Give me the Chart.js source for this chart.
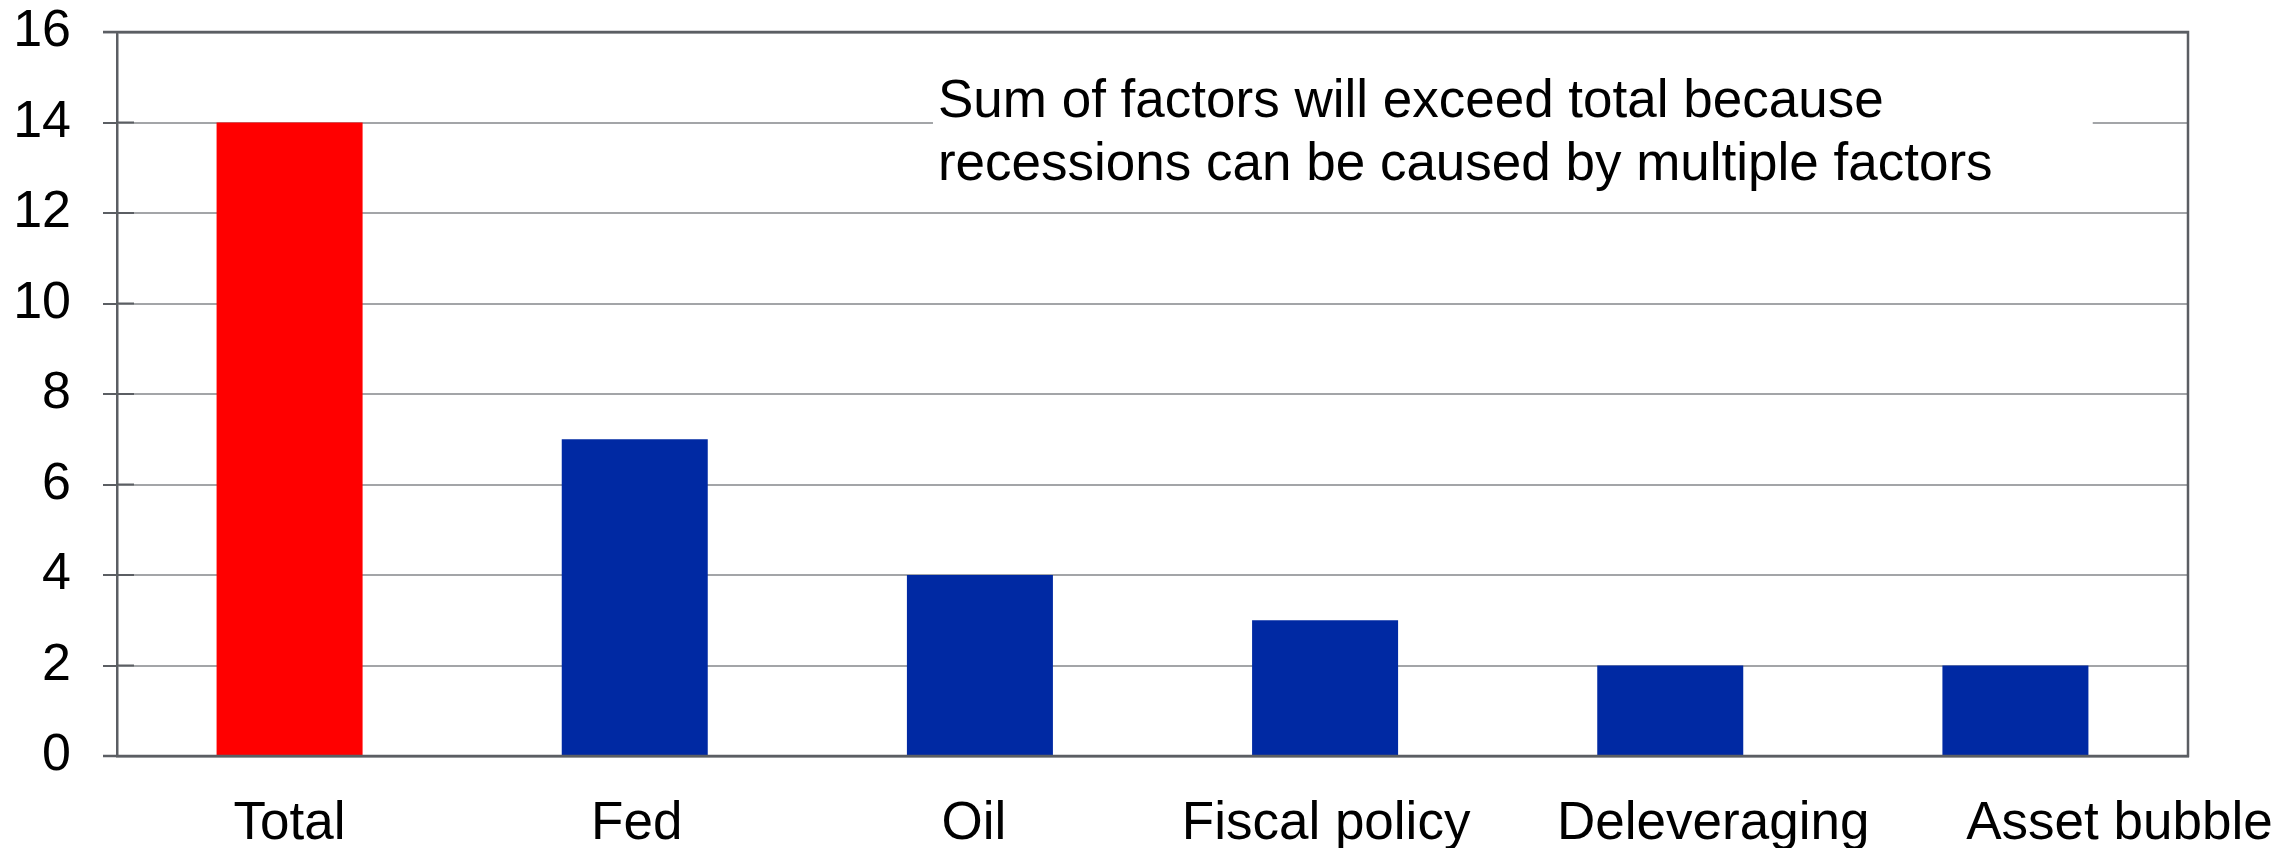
<!DOCTYPE html>
<html>
<head>
<meta charset="utf-8">
<title>Causes of recessions</title>
<script src="https://cdn.jsdelivr.net/npm/chart.js@4.4.1/dist/chart.umd.min.js"></script>
<style>
    html, body { margin: 0; padding: 0; background: #ffffff; }
    canvas { display: block; }
</style>
</head>
<body>
<canvas id="recessionChart" width="2283" height="848"></canvas>
<script>

// ==========================================
// Data
// ==========================================

const categories = ["Total", "Fed", "Oil", "Fiscal policy", "Deleveraging", "Asset bubble"];

const recessionCounts = [14, 7, 4, 3, 2, 2];

const barColors = ["#ff0000", "#0029a3", "#0029a3", "#0029a3", "#0029a3", "#0029a3"];

const yTickValues = [0, 2, 4, 6, 8, 10, 12, 14, 16];

const noteLines = [
    "Sum of factors will exceed total because",
    "recessions can be caused by multiple factors"
];

// small sideways nudge of the category labels (px), as in the original
const labelNudge = [0, 2, -6, 1, 43, 104];


// ==========================================
// Styles
// ==========================================

const FONT = "'Liberation Sans', Arial, Helvetica, sans-serif";
const AXIS_DARK = "#5b5e63";
const GRID_GREY = "#a3a5a8";


// ==========================================
// Plugins
// ==========================================

// frame lines, inner tick marks, note box
const framePlugin = {

    id: "framePlugin",

    afterDatasetsDraw(chart) {

        const ctx = chart.ctx;
        const area = chart.chartArea;
        const y = chart.scales.y;

        ctx.save();

        ctx.strokeStyle = AXIS_DARK;
        ctx.lineWidth = 2.5;

        // top, right and bottom edges of the plot box
        ctx.beginPath();
        ctx.moveTo(area.left - 14, area.top);
        ctx.lineTo(area.right, area.top);
        ctx.lineTo(area.right, area.bottom);
        ctx.lineTo(area.left - 14, area.bottom);
        ctx.stroke();

        // small dark tick segments just inside the axis
        ctx.lineWidth = 2;
        yTickValues.forEach(v => {
            const py = y.getPixelForValue(v);
            ctx.beginPath();
            ctx.moveTo(area.left, py);
            ctx.lineTo(area.left + 17, py);
            ctx.stroke();
        });

        // note box
        const w = area.right - area.left;
        const boxLeft = area.left + w * 0.394;
        const boxRight = area.left + w * 0.954;

        ctx.fillStyle = "#ffffff";
        ctx.fillRect(boxLeft, area.top + 40, boxRight - boxLeft, 133);

        ctx.fillStyle = "#000000";
        ctx.font = "53px " + FONT;
        ctx.textAlign = "left";
        ctx.textBaseline = "alphabetic";

        noteLines.forEach((line, i) => {
            ctx.fillText(line, boxLeft + 5, area.top + 85 + i * 63);
        });

        ctx.restore();

    }

};

// category labels under the axis
const categoryLabelPlugin = {

    id: "categoryLabelPlugin",

    afterDraw(chart) {

        const ctx = chart.ctx;
        const x = chart.scales.x;
        const area = chart.chartArea;

        ctx.save();

        ctx.fillStyle = "#000000";
        ctx.font = "53px " + FONT;
        ctx.textAlign = "center";
        ctx.textBaseline = "alphabetic";

        categories.forEach((label, i) => {
            ctx.fillText(label, x.getPixelForTick(i) + labelNudge[i], area.bottom + 83);
        });

        ctx.restore();

    }

};


// ==========================================
// Chart
// ==========================================

const ctx = document.getElementById("recessionChart").getContext("2d");

new Chart(ctx, {

    type: "bar",

    data: {

        labels: categories,

        datasets: [{

            label: "Recessions",

            data: recessionCounts,

            backgroundColor: barColors,

            borderWidth: 0,

            barPercentage: 0.423,

            categoryPercentage: 1.0

        }]

    },

    options: {

        responsive: false,
        animation: false,
        devicePixelRatio: 1,

        layout: {
            padding: {
                left: 15,
                right: 95,
                top: 32,
                bottom: 0
            }
        },

        plugins: {
            legend: { display: false },
            tooltip: { enabled: false }
        },

        scales: {

            x: {
                grid: { display: false },
                ticks: { display: false },
                border: { display: true, color: AXIS_DARK, width: 2.5 },
                afterFit(scale) {
                    scale.height = 92;
                }
            },

            y: {
                min: 0,
                max: 16,
                afterBuildTicks(scale) {
                    scale.ticks = yTickValues.map(v => ({ value: v }));
                },
                afterFit(scale) {
                    scale.width = 102;
                    scale.paddingTop = 0;
                    scale.paddingBottom = 0;
                },
                grid: {
                    color: c => (c.tick && (c.tick.value === 16 || c.tick.value === 0)) ? AXIS_DARK : GRID_GREY,
                    lineWidth: c => (c.tick && c.tick.value === 16) ? 2.5 : 2,
                    tickColor: AXIS_DARK,
                    tickLength: 14,
                    tickWidth: 2
                },
                border: { display: true, color: AXIS_DARK, width: 2.5 },
                ticks: {
                    color: "#000000",
                    padding: 32,
                    font: { family: FONT, size: 52 }
                }
            }

        }

    },

    plugins: [framePlugin, categoryLabelPlugin]

});

</script>
</body>
</html>
